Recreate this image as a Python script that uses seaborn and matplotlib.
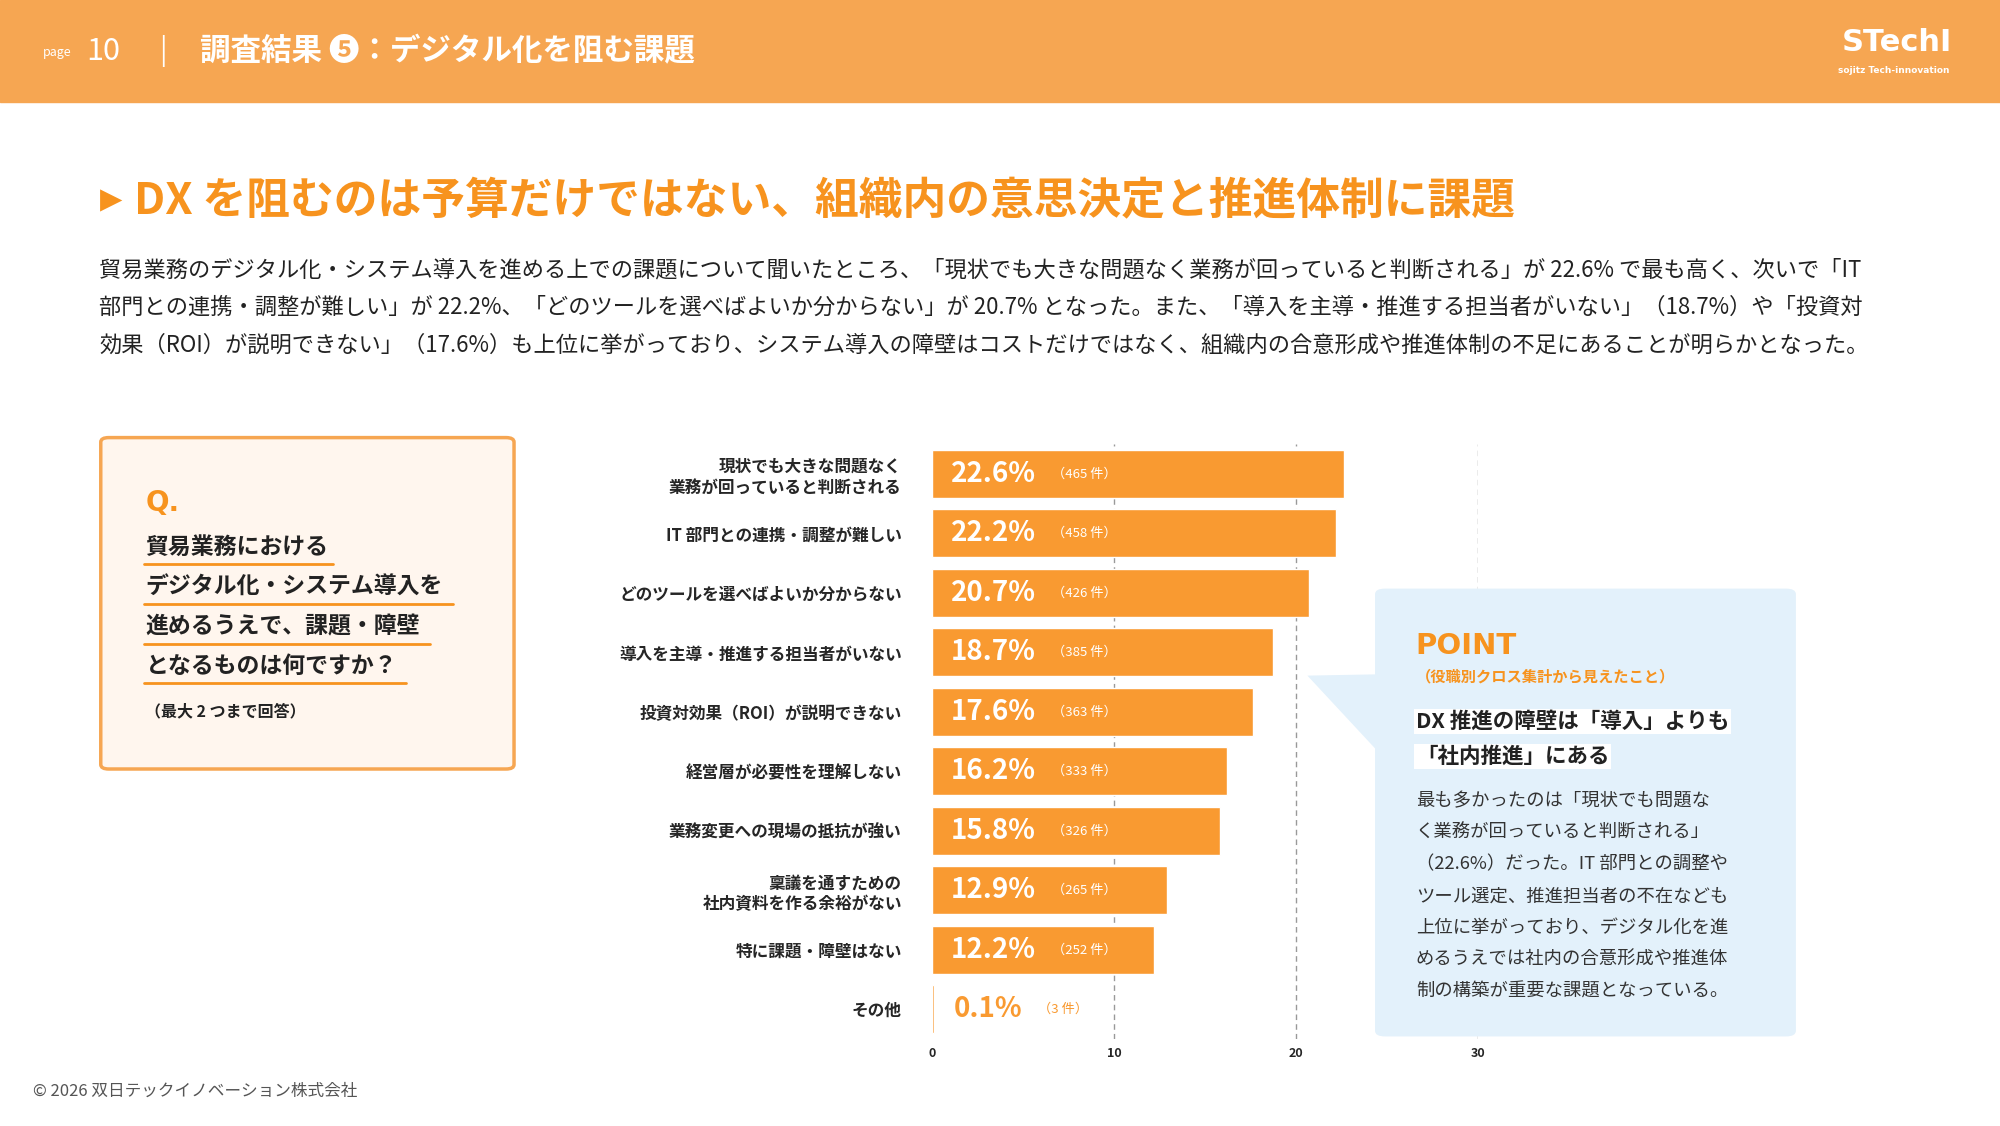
import matplotlib
matplotlib.use("Agg")
import matplotlib.pyplot as plt
import seaborn as sns
import pandas as pd
from matplotlib.patches import Rectangle, FancyBboxPatch, Polygon

categories = [
    "現状でも大きな問題なく\n業務が回っていると判断される",
    "IT 部門との連携・調整が難しい",
    "どのツールを選べばよいか分からない",
    "導入を主導・推進する担当者がいない",
    "投資対効果（ROI）が説明できない",
    "経営層が必要性を理解しない",
    "業務変更への現場の抵抗が強い",
    "稟議を通すための\n社内資料を作る余裕がない",
    "特に課題・障壁はない",
    "その他",
]
percents = [22.6, 22.2, 20.7, 18.7, 17.6, 16.2, 15.8, 12.9, 12.2, 0.1]
counts = [465, 458, 426, 385, 363, 333, 326, 265, 252, 3]
x_ticks = [0, 10, 20, 30]

ORANGE = "#F99A31"
HEADER = "#F6A652"
TITLE = "#F7931E"
DARK = "#222222"

sns.set_theme(style="white")
plt.rcParams["font.family"] = ["Noto Sans CJK JP", "DejaVu Sans"]

W, H = 1568, 880
fig = plt.figure(figsize=(20, 11.26), dpi=100)


def fx(x):
    return x / W


def fy(y):
    return 1 - y / H


def txt(x, y, s, **kw):
    fig.text(fx(x), fy(y), s, **kw)


# header band
fig.patches.append(Rectangle((0, fy(80)), 1, 80 / H, transform=fig.transFigure,
                             color=HEADER, zorder=0))
txt(34, 41, "page", color="white", fontsize=9, va="center")
txt(68, 40, "10", color="white", fontsize=22, va="center")
txt(125, 40, "|", color="white", fontsize=20, va="center")
txt(157, 40, "調査結果 ❺：デジタル化を阻む課題", color="white", fontsize=22,
    va="center", fontweight="bold")
txt(1487, 33, "STechI", color="white", fontsize=22, fontweight="bold", va="center",
    ha="center", family="DejaVu Sans")
txt(1485, 55, "sojitz Tech-innovation", color="white", fontsize=6.5, va="center",
    ha="center", fontweight="bold", family="DejaVu Sans")

# title & lead
txt(78, 157, "▶", color=TITLE, fontsize=21, va="center", family="DejaVu Sans")
txt(105, 157, "DX を阻むのは予算だけではない、組織内の意思決定と推進体制に課題",
    color=TITLE, fontsize=31.5, fontweight="bold", va="center")
lead = [
    "貿易業務のデジタル化・システム導入を進める上での課題について聞いたところ、「現状でも大きな問題なく業務が回っていると判断される」が 22.6% で最も高く、次いで「IT",
    "部門との連携・調整が難しい」が 22.2%、「どのツールを選べばよいか分からない」が 20.7% となった。また、「導入を主導・推進する担当者がいない」（18.7%）や「投資対",
    "効果（ROI）が説明できない」（17.6%）も上位に挙がっており、システム導入の障壁はコストだけではなく、組織内の合意形成や推進体制の不足にあることが明らかとなった。",
]
for i, line in enumerate(lead):
    txt(78, 211 + i * 29.5, line, color=DARK, fontsize=16, va="center")

# question box
fig.patches.append(FancyBboxPatch((fx(79), fy(601)), fx(324), 259 / H,
                                  boxstyle="round,pad=0,rounding_size=0.004",
                                  transform=fig.transFigure, facecolor="#FFF6EE",
                                  edgecolor="#F6A652", linewidth=2.5, zorder=0))
txt(114, 393, "Q.", color=TITLE, fontsize=20, fontweight="bold", va="center",
    family="DejaVu Sans")
q_lines = ["貿易業務における", "デジタル化・システム導入を", "進めるうえで、課題・障壁", "となるものは何ですか？"]
q_widths = [148, 242, 224, 205]
for i, (line, wd) in enumerate(zip(q_lines, q_widths)):
    yy = 428 + i * 31
    txt(114, yy, line, color=DARK, fontsize=16.5, fontweight="bold", va="center")
    fig.lines.append(plt.Line2D([fx(113), fx(113 + wd)], [fy(yy + 13)] * 2,
                                transform=fig.transFigure, color=TITLE, lw=2))
txt(114, 556, "（最大 2 つまで回答）", color=DARK, fontsize=11.5, fontweight="bold",
    va="center")

# bar chart
ax = fig.add_axes([fx(731), fy(812), (1159 - 731) / W, (812 - 347) / H])
df = pd.DataFrame({"cat": categories, "pct": percents})
sns.barplot(data=df, y="cat", x="pct", color=ORANGE, width=0.8, saturation=1,
            ax=ax, zorder=2)
ax.set_xlim(0, 30)
ax.set_xticks(x_ticks)
ax.set_xticklabels([str(t) for t in x_ticks], fontsize=9, fontweight="bold")
ax.tick_params(axis="x", length=0, pad=6)
ax.set_ylabel("")
ax.set_xlabel("")
ax.tick_params(axis="y", labelsize=12, length=0, pad=22)
for lab in ax.get_yticklabels():
    lab.set_fontweight("bold")
    lab.set_ha("right")
for t in x_ticks[1:]:
    ax.axvline(t, color="#999999", ls=(0, (4, 3)), lw=1, zorder=1)
for s in ax.spines.values():
    s.set_visible(False)
for i, (p, c) in enumerate(zip(percents, counts)):
    col = "white" if p > 5 else ORANGE
    ax.text(1.0 if p >= 10 else 1.2, i, f"{p}%", color=col, fontsize=20,
            fontweight="bold", va="center", ha="left")
    ax.text(6.6 if p > 5 else 5.8, i, f"（{c} 件）", color=col, fontsize=9.5,
            va="center", ha="left")

# point box
fig.patches.append(Polygon([(fx(1080), fy(527)), (fx(1025), fy(528)), (fx(1080), fy(587))],
                           closed=True, transform=fig.transFigure, facecolor="#E3F1FB",
                           edgecolor="none", zorder=3))
fig.patches.append(FancyBboxPatch((fx(1078), fy(810)), fx(330), 350 / H,
                                  boxstyle="round,pad=0,rounding_size=0.005",
                                  transform=fig.transFigure, facecolor="#E3F1FB",
                                  edgecolor="none", zorder=3))
txt(1110, 505, "POINT", color=TITLE, fontsize=21, fontweight="bold", va="center",
    family="DejaVu Sans", zorder=4)
txt(1110, 529, "（役職別クロス集計から見えたこと）", color=TITLE, fontsize=11,
    fontweight="bold", va="center", zorder=4)
for i, line in enumerate(["DX 推進の障壁は「導入」よりも", "「社内推進」にある"]):
    txt(1110, 564 + i * 27, line, color=DARK, fontsize=15.5, fontweight="bold",
        va="center", zorder=4,
        bbox=dict(facecolor="white", edgecolor="none", pad=1.5))
body = [
    "最も多かったのは「現状でも問題な",
    "く業務が回っていると判断される」",
    "（22.6%）だった。IT 部門との調整や",
    "ツール選定、推進担当者の不在なども",
    "上位に挙がっており、デジタル化を進",
    "めるうえでは社内の合意形成や推進体",
    "制の構築が重要な課題となっている。",
]
for i, line in enumerate(body):
    txt(1110, 626 + i * 24.8, line, color="#333333", fontsize=13.2, va="center",
        zorder=4)

txt(26, 853, "© 2026 双日テックイノベーション株式会社", color="#555555", fontsize=12,
    va="center")

fig.savefig("out.png", dpi=100)
